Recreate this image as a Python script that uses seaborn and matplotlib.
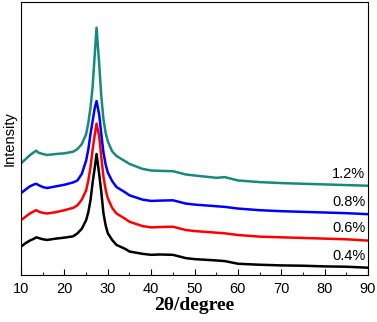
import numpy as np
import pandas as pd
import matplotlib
matplotlib.use("Agg")
import matplotlib.pyplot as plt
import seaborn as sns
from matplotlib.ticker import MultipleLocator

# 2theta positions (degree) where the curves were read
two_theta = [10, 11, 12, 13, 13.5, 14, 15, 16, 18, 20, 22, 23, 24, 25, 25.5, 26, 26.5, 27, 27.4,
             28, 28.5, 29, 29.5, 30, 31, 32, 34, 35, 38, 40, 42, 45, 48, 50, 55, 57, 60, 65, 70, 75, 80, 85, 90]

# intensities (arbitrary units, stacked)
i_04 = [86, 96, 104, 110, 114, 112, 108, 106, 110, 113, 117, 126, 140, 166, 190, 226, 280, 326, 366,
        306, 250, 186, 150, 126, 106, 91, 79, 71, 64, 61, 62, 61, 51, 48, 44, 42, 34, 31, 29, 28, 26, 25, 22]
i_06 = [166, 176, 186, 193, 196, 192, 188, 186, 190, 196, 203, 211, 228, 256, 286, 326, 380, 426, 458,
        420, 356, 296, 258, 232, 203, 186, 170, 161, 148, 144, 145, 146, 136, 133, 128, 126, 121, 116, 114, 112, 110, 108, 104]
i_08 = [248, 258, 268, 274, 276, 272, 266, 263, 268, 273, 280, 286, 306, 346, 380, 426, 466, 506, 526,
        486, 426, 370, 334, 310, 284, 266, 250, 241, 228, 224, 225, 226, 216, 213, 208, 206, 201, 196, 193, 191, 189, 187, 184]
i_12 = [338, 350, 362, 372, 376, 370, 366, 363, 366, 368, 373, 381, 396, 426, 460, 506, 570, 670, 748,
        640, 540, 470, 430, 404, 374, 360, 344, 336, 321, 316, 315, 314, 304, 301, 294, 296, 286, 281, 278, 276, 274, 272, 270]

series = {"0.4%": i_04, "0.6%": i_06, "0.8%": i_08, "1.2%": i_12}
colors = {"0.4%": "#000000", "0.6%": "#ff0000", "0.8%": "#0000ff", "1.2%": "#168a7e"}
label_y = {"0.4%": 56, "0.6%": 141, "0.8%": 221, "1.2%": 306}

df = pd.concat([pd.DataFrame({"theta": two_theta, "I": v, "sample": k}) for k, v in series.items()])

sns.set_theme(style="ticks")
plt.rcParams["font.family"] = ["Liberation Sans", "DejaVu Sans"]

fig = plt.figure(figsize=(3.77, 3.22), dpi=100)
ax = fig.add_axes([0.056, 0.146, 0.92, 0.848])

sns.lineplot(data=df, x="theta", y="I", hue="sample", palette=colors, linewidth=1.8,
             legend=False, ax=ax, sort=False)

for k in series:
    ax.text(89.4, label_y[k], k, ha="right", va="center", fontsize=10.5, color="black")

ax.set_xlim(10, 90)
ax.set_ylim(0, 826)
ax.xaxis.set_major_locator(MultipleLocator(10))
ax.xaxis.set_minor_locator(MultipleLocator(5))
ax.set_yticks([])
ax.tick_params(axis="x", which="major", direction="in", length=4, width=0.8, labelsize=10.5, pad=5, colors="black")
ax.tick_params(axis="x", which="minor", direction="in", length=2, width=0.8)
for s in ax.spines.values():
    s.set_visible(True)
    s.set_color("black")
    s.set_linewidth(0.8)

ax.set_xlabel("2θ/degree", fontsize=14, fontweight="bold",
              family=["Liberation Serif", "DejaVu Serif"], labelpad=1, color="black")
ax.set_ylabel("Intensity", fontsize=10.5, labelpad=3, color="black")

fig.savefig("out.png", dpi=100)
